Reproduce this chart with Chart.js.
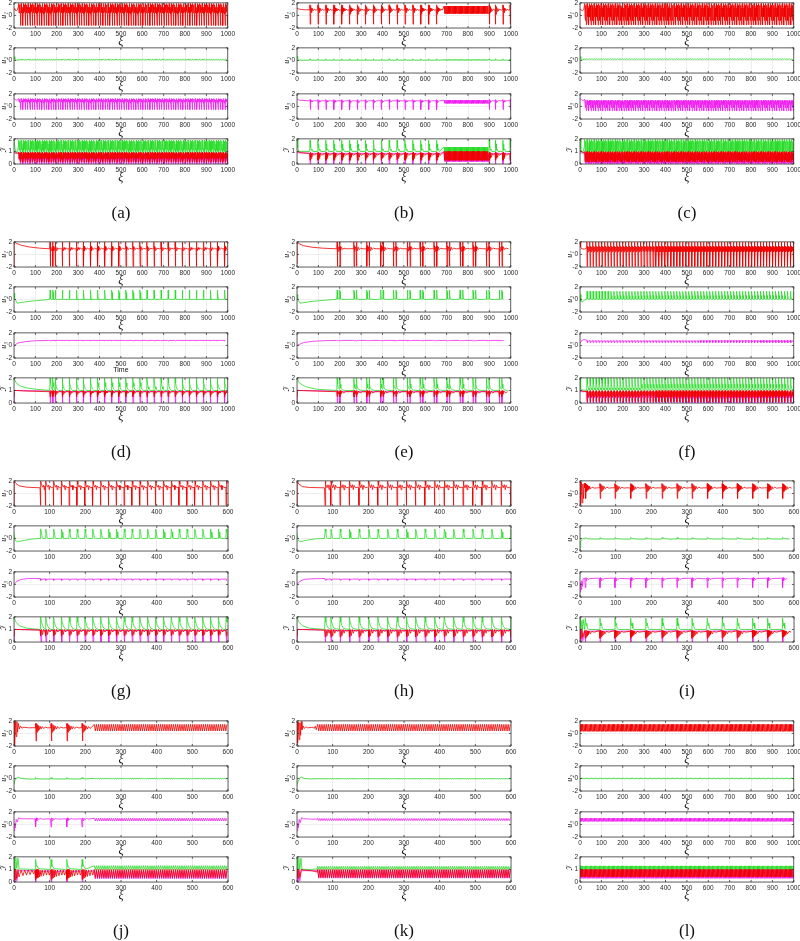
<!DOCTYPE html>
<html>
<head>
<meta charset="utf-8">
<script src="https://cdn.jsdelivr.net/npm/chart.js@4.4.1/dist/chart.umd.min.js"></script>
<style>
body{margin:0;background:#fff;width:800px;height:941px;position:relative;overflow:hidden}
canvas{position:absolute}
.lab{position:absolute;font:17px 'Liberation Serif',serif;color:#111;transform:translate(-50%,-50%)}
</style>
</head>
<body>
<script>
// tick labels
const ticks1000 = [0,100,200,300,400,500,600,700,800,900,1000];
const ticks600 = [0,100,200,300,400,500,600];
const ticksU = [-2,0,2];
const ticksI = [0,1,2];

// onset lists, helpers
function every(a, b, step){ const t = []; for (let x = a; x < b; x += step) t.push(x); return t; }
function rep(cyc, at, end){ return {cyc, at, end}; }

// ---- (a) ----
const aT = every(22, 1000, 11);
const aU1lead = [[0,1.1],[4,0.9],[10,0.75],[16,0.9],[21,1.5]];
const aU1cyc = [[0,1.9],[1.5,0.4],[3,1.7],[4.5,0.6],[6,1.3],[8,0.2],[9,-1.6],[10,0.9]];
const aU2lead = [[0,0.6],[4,0.2],[10,0.05],[21,0.1]];
const aU2cyc = [[0,0.2],[4,0.08],[8,0.14]];
const aU3lead = [[0,1.3],[6,1.1],[14,1.0],[21,1.2]];
const aU3cyc = [[0,1.25],[1.5,0.7],[3,1.15],[4.5,0.8],[6,1.0],[8,0.5],[9,-0.5],[10,0.8]];
const aGlead = [[0,2],[5,1.2],[12,0.9],[18,1.1],[21,1.6]];
const aGcyc = [[0,1.9],[2,1.1],[4,1.8],[6,1.2],[8,1.0],[9,0.9],[10,1.6]];
const aRlead = [[0,1.0],[8,0.9],[16,0.85],[21,0.9]];
const aRcyc = [[0,0.95],[1.5,0.4],[3,0.9],[5,0.5],[7,0.85],[9,0.15],[10,0.7]];
const aMlead = [[0,0.9],[6,0.85],[21,0.9]];
const aMcyc = [[0,0.9],[2,0.3],[4,0.8],[6,0.4],[8.5,0.0],[10,0.6]];

// ---- (b) ----
const bT1 = [60,97,134,171,208,245,282,319,356,393,430,467,504,541,578,615,652];
const bD = every(688, 895, 4);
const bT2 = [898,927,962,996];
const bU1lead = [[0,1.2],[5,1.05],[20,0.95],[40,0.9],[59,0.9]];
const bU1cyc = [[0,0.9],[0.8,1.7],[1.8,-1.4],[2.8,1.6],[4,0.2],[5.2,1.4],[6.5,0.45],[8,1.2],[10,0.65],[12.5,1.1],[16,0.75],[21,1.0],[28,0.85],[36,0.9]];
const bU1d = [[0,1.5],[2,0.3]];
const bU2lead = [[0,0.7],[3,0.3],[8,0.05],[59,0.05]];
const bU2cyc = [[0,0.05],[1,0.25],[3,0.1],[8,0.05],[36,0.05]];
const bU2d = [[0,0.12],[2,0.05]];
const bU3lead = [[0,1.2],[10,1.0],[59,0.9]];
const bU3cyc = [[0,0.9],[1,1.1],[2,-0.5],[3.2,0.9],[5,0.6],[7,0.95],[10,0.75],[15,0.9],[36,0.9]];
const bU3d = [[0,1.0],[2,0.5]];
const bGlead = [[0,2],[4,1.3],[10,1.0],[59,1.0]];
const bGcyc = [[0,1.0],[1,1.9],[2.5,1.3],[4,1.6],[6,1.1],[9,1.2],[14,1.0],[36,1.0]];
const bGd = [[0,1.35],[2,0.9]];
const bRlead = [[0,1.0],[20,0.9],[59,0.85]];
const bRcyc = [[0,0.85],[1,0.3],[2,0.95],[3.5,0.3],[5,0.9],[6.5,0.45],[8,0.85],[10,0.55],[13,0.85],[18,0.7],[36,0.85]];
const bRd = [[0,1.0],[2,0.3]];
const bMlead = [[0,0.9],[59,0.85]];
const bMcyc = [[0,0.85],[1.5,0],[3,0.8],[5,0.6],[8,0.85],[36,0.85]];
const bMd = [[0,0.9],[2,0.2]];

// ---- (c) ----
const cT = every(22, 1000, 11);
const cU1lead = [[0,1.1],[5,0.85],[12,0.75],[18,1.0],[21,1.6]];
const cU1cyc = [[0,1.9],[1.5,-0.2],[3,1.6],[4.5,-0.8],[6,1.2],[8,-1.5],[9.5,1.5]];
const cU2lead = [[0,0.6],[4,0.3],[10,0.1],[21,0.2]];
const cU2cyc = [[0,0.26],[5,0.16]];
const cU2tail = [[990,0.2],[1000,0.0]];
const cU3lead = [[0,1.3],[6,1.1],[14,0.95],[21,1.1]];
const cU3cyc = [[0,1.0],[1.5,0.3],[3,0.95],[4.5,-0.2],[6,0.8],[8,-0.7],[9.5,0.9]];
const cGlead = [[0,2],[4,1.2],[10,0.9],[16,1.0],[21,1.5]];
const cGcyc = [[0,1.95],[2,1.0],[4,1.8],[6,1.1],[8,0.95],[9.5,1.7]];
const cRlead = [[0,1.1],[10,0.95],[21,0.9]];
const cRcyc = [[0,1.0],[1.5,0.2],[3,0.9],[5,0.35],[7,0.95],[8.5,0.15],[10,0.8]];
const cMlead = [[0,0.9],[21,0.85]];
const cMcyc = [[0,0.9],[2,0.1],[4,0.8],[6,0.05],[8.5,0.0],[10,0.6]];

// ---- (d) ----
const dT = [168,180,192,225,258,291,324,357,390,423,456,489,522,555,588,621,654,687,720,753,786,819,852,885,918,951,984];
const dU1lead = [[0,-2],[0.6,2],[10,1.8],[30,1.5],[70,1.2],[120,1.0],[167,0.9]];
const dU1cyc = [[0,0.9],[0.7,2.0],[2,-1.9],[3.5,1.3],[6,0.6],[9,1.1],[13,0.8],[19,1.0],[26,0.88],[32,0.92]];
const dU2lead = [[0,1.0],[3,0.2],[15,-0.6],[50,-0.4],[100,-0.2],[150,-0.05],[167,0]];
const dU2cyc = [[0,0],[1.2,1.5],[2.5,1.1],[3.8,0.1],[6,0],[32,0.02]];
const dU3lead = [[0,0],[20,0.4],[50,0.6],[100,0.75],[167,0.8]];
const dU3cyc = [[0,0.8],[2,0.72],[5,0.8],[32,0.8]];
const dGlead = [[0,2],[10,1.6],[30,1.35],[60,1.2],[100,1.1],[167,1.0]];
const dGcyc = [[0,1.0],[0.8,2.0],[3,1.6],[6,1.3],[10,1.1],[16,1.0],[32,1.0]];
const dRlead = [[0,0.5],[1,1.0],[60,0.95],[167,0.9]];
const dRcyc = [[0,0.9],[1.5,0.5],[3,1.0],[5,0.7],[8,0.95],[12,0.8],[18,0.9],[32,0.9]];
const dMlead = [[0,0],[1,1.0],[167,0.95]];
const dMcyc = [[0,0.9],[1.8,0],[3.5,0.8],[6,0.9],[32,0.92]];

// ---- (e) ----
const eT = [187,265,325,390,450,515,575,640,700,762,822,885,945];
const eU1lead = [[0,-1.5],[0.6,2],[10,1.7],[30,1.4],[70,1.15],[120,1.0],[186,0.9]];
const eU1cyc = [[0,0.9],[0.8,2],[2,-1.9],[3.5,1.4],[6,0.5],[9,1.2],[12,0.7],[13,2],[14.2,-1.9],[15.5,1.3],[18,0.6],[21,1.15],[26,0.8],[33,1.0],[45,0.9],[60,0.92]];
const eU2lead = [[0,0.8],[3,0],[15,-0.6],[60,-0.35],[120,-0.15],[186,0.02]];
const eU2cyc = [[0,0.02],[1,1.5],[2.5,1.2],[4,0.1],[12,0.05],[13,1.5],[14.5,1.2],[16,0.1],[22,0],[60,0.02]];
const eU3lead = [[0,0],[30,0.45],[70,0.65],[120,0.75],[186,0.8]];
const eU3cyc = [[0,0.8],[3,0.72],[8,0.8],[15,0.74],[22,0.8],[60,0.8]];
const eGlead = [[0,2],[10,1.6],[40,1.3],[90,1.1],[186,1.0]];
const eGcyc = [[0,1.0],[0.8,2],[3,1.5],[6,1.2],[12,1.1],[13,2],[15,1.5],[18,1.2],[25,1.05],[40,1.0],[60,1.0]];
const eRlead = [[0,0.5],[1,1.0],[90,0.95],[186,0.9]];
const eRcyc = [[0,0.9],[1.5,0.5],[3,1.0],[6,0.7],[10,0.95],[13.5,0.5],[15,1.0],[18,0.7],[23,0.95],[30,0.8],[40,0.9],[60,0.9]];
const eMlead = [[0,0],[1,1.0],[186,0.95]];
const eMcyc = [[0,0.9],[1.8,0],[3.5,0.8],[12,0.9],[13.8,0],[15.5,0.8],[22,0.9],[60,0.92]];

// ---- (f) ----
const fT = every(32, 1000, 14);
const fU1lead = [[0,2],[3,1.2],[8,0.9],[20,0.85],[31,1.0]];
const fU1cyc = [[0,2],[1.5,-1.9],[3.5,1.3],[6,0.4],[8.5,1.2],[11,0.6],[13,1.0]];
const fU2lead = [[0,0.8],[4,-0.3],[10,-0.4],[20,-0.1],[31,0]];
const fU2cyc = [[0,0],[1,1.3],[3,0.6],[5,0.1],[9,0],[13,0.05]];
const fU3lead = [[0,0.3],[8,0.8],[20,0.95],[31,0.85]];
const fU3cyc = [[0,0.8],[2,0.45],[4,0.75],[8,0.65],[12,0.8]];
const fGlead = [[0,2],[3,1.1],[8,1.05],[31,1.0]];
const fGcyc = [[0,1.0],[1,2],[3,1.5],[6,1.2],[10,1.05]];
const fRlead = [[0,1.0],[10,0.95],[31,0.9]];
const fRcyc = [[0,0.95],[1.5,0.1],[3,1.0],[6,0.5],[9,0.9],[12,0.6]];
const fMlead = [[0,0.9],[31,0.9]];
const fMcyc = [[0,0.9],[1.8,0],[3.5,0.7],[7,0.4],[11,0.8]];

// ---- (g) ----
const gT = [74,88,110,132,154,176,198,220,242,264,286,308,330,352,374,396,418,440,462,484,506,528,550,572,594];
const gU1lead = [[0,-2],[0.5,2],[5,1.6],[15,1.2],[35,1.0],[73,0.9]];
const gU1cyc = [[0,0.9],[0.6,-1.9],[1.5,2],[3,1.5],[6,1.0],[9,1.3],[11,0.6],[13,1.2],[17,0.9],[21,1.0]];
const gU2lead = [[0,0.8],[3,-0.3],[10,-0.5],[30,-0.3],[50,-0.1],[73,0]];
const gU2cyc = [[0,0],[1.2,1.5],[3,1.0],[5,0.1],[8,0],[21,0.02]];
const gU3lead = [[0,0],[8,0.5],[20,0.8],[40,0.95],[73,0.95]];
const gU3cyc = [[0,0.9],[1.5,0.65],[3,0.8],[10,0.85],[21,0.85]];
const gGlead = [[0,2],[5,1.6],[15,1.3],[35,1.1],[73,1.0]];
const gGcyc = [[0,1.0],[1,2],[3,1.6],[6,1.3],[10,1.1],[16,1.0],[21,1.0]];
const gRlead = [[0,0.5],[1,1.0],[40,0.98],[73,0.95]];
const gRcyc = [[0,0.95],[1.5,0.5],[3,1.0],[6,0.6],[9,1.0],[13,0.8],[17,0.95],[21,0.93]];
const gMlead = [[0,0],[1,1.0],[73,0.95]];
const gMcyc = [[0,0.9],[1.8,0],[3.5,0.8],[6,0.9],[21,0.92]];

// ---- (h) ----
const hT = [78,94,120,146,173,200,226,253,280,306,332,358,385,412,438,465,492,518,545,572,598];
const hU1lead = [[0,-2],[0.5,2],[5,1.5],[15,1.1],[35,0.95],[77,0.9]];
const hU1cyc = [[0,0.9],[0.6,-1.9],[1.5,2],[3,1.4],[6,0.9],[9,1.4],[12,0.6],[14,1.3],[18,0.9],[25,1.0]];
const hU2lead = [[0,0.8],[3,-0.3],[10,-0.5],[30,-0.25],[55,-0.05],[77,0]];
const hU2cyc = [[0,0],[1.2,1.5],[3,1.0],[5,0.1],[8,0],[25,0.02]];
const hU3lead = [[0,0],[8,0.5],[20,0.8],[40,0.9],[77,0.95]];
const hU3cyc = [[0,0.9],[1.5,0.65],[3,0.8],[10,0.85],[25,0.85]];
const hGlead = [[0,2],[5,1.6],[15,1.3],[35,1.1],[77,1.0]];
const hGcyc = [[0,1.0],[1,2],[3,1.6],[6,1.3],[10,1.1],[16,1.05],[25,1.0]];
const hRlead = [[0,0.5],[1,1.0],[40,0.98],[77,0.95]];
const hRcyc = [[0,0.95],[1.5,0.4],[3,1.0],[6,0.5],[9,1.0],[12,0.7],[15,0.95],[20,0.85],[25,0.93]];
const hMlead = [[0,0],[1,1.0],[77,0.95]];
const hMcyc = [[0,0.9],[1.8,0],[3.5,0.8],[6,0.9],[25,0.92]];

// ---- (i) ----
const iT = [14,55,97,141,184,229,271,313,356,398,440,483,525,567];
const iU1lead = [[0,0],[1,1.9],[2.5,-1.8],[4,1.8],[6,-1.5],[8,1.5],[10,-0.8],[12,1.6],[13,0.9]];
const iU1cyc = [[0,0.9],[0.8,1.6],[1.8,-0.8],[3,1.5],[4.5,0.3],[6,1.3],[7.5,0.5],[9,1.2],[11,0.65],[13,1.1],[16,0.75],[20,1.0],[26,0.85],[35,0.9],[42,0.88]];
const iU2lead = [[0,-1.5],[2,-0.5],[5,-0.2],[8,0.0],[13,-0.1]];
const iU2cyc = [[0,-0.1],[1,0.15],[3,0.05],[8,-0.05],[20,-0.1],[42,-0.12]];
const iU3lead = [[0,-1.2],[2,0.3],[3.5,-0.8],[5,0.6],[7,-0.3],[9,0.9],[13,1.0]];
const iU3cyc = [[0,1.0],[1,-0.5],[2.5,1.1],[4,0.6],[6,1.0],[9,0.8],[14,0.95],[42,0.9]];
const iGlead = [[0,0],[1,1.9],[3,1.0],[5,1.7],[7,1.0],[9,1.8],[13,1.0]];
const iGcyc = [[0,1.0],[1,1.9],[3,1.3],[5,1.5],[7,1.1],[10,1.0],[42,1.0]];
const iRlead = [[0,0.2],[1,1.0],[3,0.3],[5,1.0],[8,0.4],[13,0.9]];
const iRcyc = [[0,0.9],[1,0.3],[2.5,0.95],[4,0.4],[5.5,0.9],[7,0.5],[8.5,0.88],[10,0.6],[12,0.85],[15,0.65],[19,0.85],[25,0.78],[42,0.85]];
const iMlead = [[0,0],[1,0.9],[3,0],[5,0.9],[8,0.1],[13,0.9]];
const iMcyc = [[0,0.9],[1.5,0],[3,0.8],[6,0.85],[42,0.88]];

// ---- (j) ----
const jT = [60,103,147,190];
const jD = every(225, 600, 6);
const jU1lead = [[0,-1.9],[1,2],[2.5,-1.9],[4,1.9],[6,-0.5],[8,1.9],[10,0.2],[12,1.6],[15,0.7],[18,1.2],[22,0.85],[28,1.0],[40,0.9],[59,0.92]];
const jU1cyc = [[0,0.9],[0.8,1.6],[2,-1.2],[3.2,1.6],[4.5,0.2],[6,1.4],[7.5,0.45],[9,1.25],[11,0.6],[13,1.15],[16,0.7],[19,1.1],[23,0.8],[28,1.0],[35,0.88],[42,0.92]];
const jU1d = [[0,1.45],[3,0.4]];
const jU2lead = [[0,-0.9],[3,-0.3],[8,0.1],[13,0.2],[20,0],[40,-0.1],[59,-0.1]];
const jU2cyc = [[0,-0.1],[1,0.15],[3,0.0],[10,-0.08],[42,-0.1]];
const jU2d = [[0,0.02],[3,-0.08]];
const jU3lead = [[0,-1.0],[2,0.2],[4,-0.5],[6,0.8],[9,0.4],[13,1.05],[20,0.9],[59,0.9]];
const jU3cyc = [[0,0.9],[1,-0.4],[2.5,1.05],[4,0.6],[6,1.0],[9,0.75],[13,0.95],[20,0.85],[42,0.9]];
const jU3d = [[0,1.0],[3,0.55]];
const jGlead = [[0,1.0],[1,1.9],[3,1.0],[5,1.9],[8,1.1],[11,1.9],[14,1.05],[59,1.0]];
const jGcyc = [[0,1.0],[1,1.8],[3,1.25],[5,1.3],[8,1.1],[14,1.05],[42,1.0]];
const jGd = [[0,1.3],[3,1.0]];
const jRlead = [[0,0.2],[1,1.0],[3,0.2],[5,1.0],[8,0.3],[11,1.0],[14,0.4],[20,0.95],[25,0.5],[30,0.95],[35,0.55],[40,0.95],[45,0.6],[50,0.95],[55,0.65],[59,0.9]];
const jRcyc = [[0,0.95],[1,0.2],[2.5,1.0],[4,0.3],[5.5,1.0],[7,0.35],[9,0.98],[11,0.4],[13,0.95],[16,0.45],[19,0.95],[23,0.5],[27,0.95],[31,0.55],[35,0.95],[39,0.55]];
const jRd = [[0,1.0],[3,0.35]];
const jMlead = [[0,0],[1,0.9],[3,0],[5,0.9],[8,0.1],[12,0.9],[59,0.9]];
const jMcyc = [[0,0.9],[1.5,0],[3,0.85],[6,0.5],[9,0.85],[13,0.6],[17,0.85],[42,0.88]];
const jMd = [[0,0.9],[3,0.25]];

// ---- (k) ----
const kD = every(58, 600, 6);
const kU1lead = [[0,-1.8],[1,1.9],[2.5,-1.5],[4,1.8],[6,-1.0],[8,1.7],[10,-0.3],[12,1.9],[14,0.6],[17,1.2],[20,0.8],[25,1.05],[30,0.9],[40,0.95],[45,1.0],[48,0.8],[51,1.15],[54,0.6]];
const kU1d = [[0,1.45],[3,0.4]];
const kU2lead = [[0,-1.0],[3,-0.5],[8,0.1],[13,0.2],[20,0.0],[35,-0.08],[57,-0.05]];
const kU2d = [[0,-0.02],[3,-0.08]];
const kU3lead = [[0,-1.0],[2,0.2],[4,-0.5],[6,0.8],[9,0.3],[13,1.1],[18,0.9],[40,0.85],[57,0.85]];
const kU3d = [[0,0.95],[3,0.6]];
const kGlead = [[0,1.0],[1,1.9],[3,1.0],[5,1.9],[8,1.0],[11,1.9],[14,1.0],[40,1.0],[57,1.05]];
const kGd = [[0,1.25],[3,1.0]];
const kRlead = [[0,0.3],[1,1.0],[3,0.3],[5,1.0],[8,0.4],[12,1.0],[20,0.95],[40,0.9],[57,0.8]];
const kRd = [[0,1.0],[3,0.35]];
const kMlead = [[0,0],[1,0.9],[3,0],[5,0.9],[8,0.1],[12,0.9],[57,0.9]];
const kMd = [[0,0.95],[3,0.3]];

// ---- (l) ----
const lD = every(0, 1000, 6);
const lU1d = [[0,1.45],[3,0.35]];
const lU2d = [[0,0.04],[3,-0.04]];
const lU3d = [[0,1.0],[3,0.5]];
const lGd = [[0,1.28],[3,1.0]];
const lRd = [[0,1.0],[3,0.42]];
const lMd = [[0,1.0],[3,0.3]];

// layout of the figure
const colLeft = [14, 297, 580];
const rowTop = [2, 241, 480, 720];
const subOff = [0, 45, 91, 136];
const boxW = 214, boxH = 26, labelDy = 211;
const RED = '#f00000', GREEN = '#2bdc2b', MAG = '#f020f0';
const TF = "'Liberation Sans', Arial, sans-serif";
const SF = "'Liberation Serif', 'DejaVu Serif', serif";

function series(parts, xmax){
  const out = [];
  parts.forEach(p => {
    if (Array.isArray(p)) { p.forEach(([x, y]) => out.push({x, y})); return; }
    const end = p.end === undefined ? xmax : p.end;
    p.at.forEach((t, i) => {
      const next = i + 1 < p.at.length ? p.at[i + 1] : end;
      p.cyc.forEach(([dx, y]) => { if (t + dx < next) out.push({x: t + dx, y}); });
    });
  });
  return out;
}

// box, inward ticks
const frame = {
  id: 'frame',
  afterDraw(chart){
    const {ctx, chartArea: a, scales: {x, y}} = chart;
    ctx.save();
    ctx.strokeStyle = '#333';
    ctx.lineWidth = 0.75;
    ctx.strokeRect(a.left, a.top, a.right - a.left, a.bottom - a.top);
    ctx.beginPath();
    x.ticks.forEach(t => {
      const px = x.getPixelForValue(t.value);
      ctx.moveTo(px, a.bottom); ctx.lineTo(px, a.bottom - 2);
      ctx.moveTo(px, a.top); ctx.lineTo(px, a.top + 2);
    });
    y.ticks.forEach(t => {
      const py = y.getPixelForValue(t.value);
      ctx.moveTo(a.left, py); ctx.lineTo(a.left + 2, py);
      ctx.moveTo(a.right, py); ctx.lineTo(a.right - 2, py);
    });
    ctx.stroke();
    ctx.restore();
  }
};

function plot(L, T, xmax, xt, yt, ylab, xlab, lines){
  const cv = document.createElement('canvas');
  cv.width = 14 + boxW + 9;
  cv.height = 5 + boxH + 21;
  cv.style.left = (L - 14) + 'px';
  cv.style.top = (T - 5) + 'px';
  document.body.appendChild(cv);
  const isTime = xlab === 'Time';
  new Chart(cv, {
    type: 'line',
    data: {
      datasets: lines.map(([parts, color]) => ({
        data: series(parts, xmax), borderColor: color, borderWidth: 0.8,
        pointRadius: 0, tension: 0, fill: false
      }))
    },
    options: {
      responsive: false, animation: false, events: [],
      layout: {padding: {top: 5, right: 9, left: 0, bottom: 0}},
      plugins: {legend: {display: false}, tooltip: {enabled: false}},
      scales: {
        x: {
          type: 'linear', min: 0, max: xmax,
          afterBuildTicks: s => { s.ticks = xt.map(v => ({value: v})); },
          afterFit: s => { s.height = 21; },
          grid: {color: '#e6e6e6', lineWidth: 0.7, drawTicks: false},
          border: {display: false},
          ticks: {font: {size: 6.5, family: TF}, color: '#262626', padding: 2,
                  maxRotation: 0, autoSkip: false, callback: v => String(v)},
          title: {display: true, text: xlab, color: '#111',
                  padding: {top: 0, bottom: isTime ? 5 : 0},
                  font: isTime ? {size: 7, family: TF} : {size: 12, family: SF, style: 'italic'}}
        },
        y: {
          type: 'linear', min: yt[0], max: yt[yt.length - 1],
          afterBuildTicks: s => { s.ticks = yt.map(v => ({value: v})); },
          afterFit: s => { s.width = 14; },
          grid: {color: '#e6e6e6', lineWidth: 0.7, drawTicks: false},
          border: {display: false},
          ticks: {font: {size: 6.5, family: TF}, color: '#262626', padding: 2, callback: v => String(v)},
          title: {display: true, text: ylab, color: '#111', padding: {top: -0.5, bottom: 0},
                  font: {size: 8, family: SF, style: 'italic', lineHeight: 1}}
        }
      }
    },
    plugins: [frame]
  });
}

function panel(col, row, tag, xmax, u1, u2, u3, g, r, m, u3x){
  const L = colLeft[col], T = rowTop[row];
  const xt = xmax === 1000 ? ticks1000 : ticks600;
  plot(L, T + subOff[0], xmax, xt, ticksU, 'u₁', 'ξ', [[u1, RED]]);
  plot(L, T + subOff[1], xmax, xt, ticksU, 'u₂', 'ξ', [[u2, GREEN]]);
  plot(L, T + subOff[2], xmax, xt, ticksU, 'u₃', u3x || 'ξ', [[u3, MAG]]);
  plot(L, T + subOff[3], xmax, xt, ticksI, 'ℑ', 'ξ', [[r, RED], [g, GREEN], [m, MAG]]);
  const d = document.createElement('div');
  d.className = 'lab';
  d.textContent = '(' + tag + ')';
  d.style.left = (L + boxW / 2) + 'px';
  d.style.top = (T + labelDy) + 'px';
  document.body.appendChild(d);
}

panel(0, 0, 'a', 1000,
  [aU1lead, rep(aU1cyc, aT)], [aU2lead, rep(aU2cyc, aT)], [aU3lead, rep(aU3cyc, aT)],
  [aGlead, rep(aGcyc, aT)], [aRlead, rep(aRcyc, aT)], [aMlead, rep(aMcyc, aT)]);

panel(1, 0, 'b', 1000,
  [bU1lead, rep(bU1cyc, bT1, 688), rep(bU1d, bD, 895), rep(bU1cyc, bT2)],
  [bU2lead, rep(bU2cyc, bT1, 688), rep(bU2d, bD, 895), rep(bU2cyc, bT2)],
  [bU3lead, rep(bU3cyc, bT1, 688), rep(bU3d, bD, 895), rep(bU3cyc, bT2)],
  [bGlead, rep(bGcyc, bT1, 688), rep(bGd, bD, 895), rep(bGcyc, bT2)],
  [bRlead, rep(bRcyc, bT1, 688), rep(bRd, bD, 895), rep(bRcyc, bT2)],
  [bMlead, rep(bMcyc, bT1, 688), rep(bMd, bD, 895), rep(bMcyc, bT2)]);

panel(2, 0, 'c', 1000,
  [cU1lead, rep(cU1cyc, cT)], [cU2lead, rep(cU2cyc, cT, 988), cU2tail], [cU3lead, rep(cU3cyc, cT)],
  [cGlead, rep(cGcyc, cT)], [cRlead, rep(cRcyc, cT)], [cMlead, rep(cMcyc, cT)]);

panel(0, 1, 'd', 1000,
  [dU1lead, rep(dU1cyc, dT)], [dU2lead, rep(dU2cyc, dT)], [dU3lead, rep(dU3cyc, dT)],
  [dGlead, rep(dGcyc, dT)], [dRlead, rep(dRcyc, dT)], [dMlead, rep(dMcyc, dT)], 'Time');

panel(1, 1, 'e', 1000,
  [eU1lead, rep(eU1cyc, eT)], [eU2lead, rep(eU2cyc, eT)], [eU3lead, rep(eU3cyc, eT)],
  [eGlead, rep(eGcyc, eT)], [eRlead, rep(eRcyc, eT)], [eMlead, rep(eMcyc, eT)]);

panel(2, 1, 'f', 1000,
  [fU1lead, rep(fU1cyc, fT)], [fU2lead, rep(fU2cyc, fT)], [fU3lead, rep(fU3cyc, fT)],
  [fGlead, rep(fGcyc, fT)], [fRlead, rep(fRcyc, fT)], [fMlead, rep(fMcyc, fT)]);

panel(0, 2, 'g', 600,
  [gU1lead, rep(gU1cyc, gT)], [gU2lead, rep(gU2cyc, gT)], [gU3lead, rep(gU3cyc, gT)],
  [gGlead, rep(gGcyc, gT)], [gRlead, rep(gRcyc, gT)], [gMlead, rep(gMcyc, gT)]);

panel(1, 2, 'h', 600,
  [hU1lead, rep(hU1cyc, hT)], [hU2lead, rep(hU2cyc, hT)], [hU3lead, rep(hU3cyc, hT)],
  [hGlead, rep(hGcyc, hT)], [hRlead, rep(hRcyc, hT)], [hMlead, rep(hMcyc, hT)]);

panel(2, 2, 'i', 600,
  [iU1lead, rep(iU1cyc, iT)], [iU2lead, rep(iU2cyc, iT)], [iU3lead, rep(iU3cyc, iT)],
  [iGlead, rep(iGcyc, iT)], [iRlead, rep(iRcyc, iT)], [iMlead, rep(iMcyc, iT)]);

panel(0, 3, 'j', 600,
  [jU1lead, rep(jU1cyc, jT, 225), rep(jU1d, jD)],
  [jU2lead, rep(jU2cyc, jT, 225), rep(jU2d, jD)],
  [jU3lead, rep(jU3cyc, jT, 225), rep(jU3d, jD)],
  [jGlead, rep(jGcyc, jT, 225), rep(jGd, jD)],
  [jRlead, rep(jRcyc, jT, 225), rep(jRd, jD)],
  [jMlead, rep(jMcyc, jT, 225), rep(jMd, jD)]);

panel(1, 3, 'k', 600,
  [kU1lead, rep(kU1d, kD)], [kU2lead, rep(kU2d, kD)], [kU3lead, rep(kU3d, kD)],
  [kGlead, rep(kGd, kD)], [kRlead, rep(kRd, kD)], [kMlead, rep(kMd, kD)]);

panel(2, 3, 'l', 1000,
  [rep(lU1d, lD)], [rep(lU2d, lD)], [rep(lU3d, lD)],
  [rep(lGd, lD)], [rep(lRd, lD)], [rep(lMd, lD)]);
</script>
</body>
</html>
